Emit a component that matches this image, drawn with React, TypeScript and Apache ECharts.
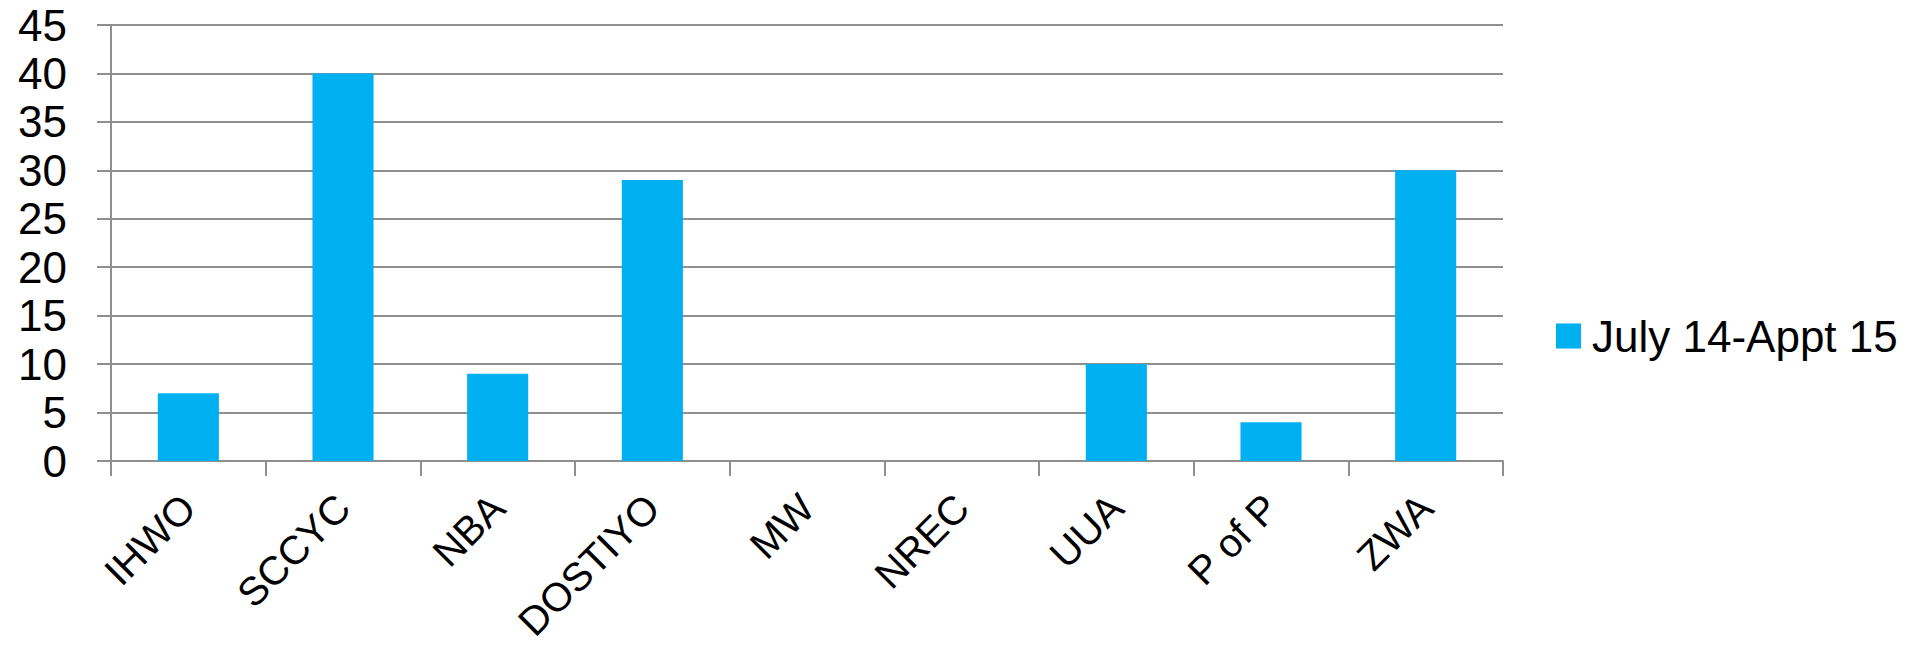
import React, { useEffect, useRef } from "react";
import * as echarts from "echarts";

const categories = ["IHWO", "SCCYC", "NBA", "DOSTIYO", "MW", "NREC", "UUA", "P of P", "ZWA"];
const values = [7, 40, 9, 29, 0, 0, 10, 4, 30];
const seriesName = "July 14-Appt 15";

export default function App() {
  const ref = useRef<HTMLDivElement>(null);
  useEffect(() => {
    document.body.style.margin = "0";
    const chart = echarts.init(ref.current!, null, { renderer: "svg" });
    const gray = "#8f8f8f";
    const font = "'Liberation Sans', Arial, sans-serif";
    chart.setOption({
      animation: false,
      textStyle: { fontFamily: font },
      grid: { left: 111, top: 25, width: 1392, height: 436, containLabel: false, outerBoundsMode: "none" },
      legend: {
        show: true,
        left: 1551,
        top: 309,
        orient: "vertical",
        itemWidth: 25,
        itemHeight: 25,
        itemGap: 10,
        icon: "rect",
        textStyle: { fontSize: 44, color: "#000", fontFamily: font, padding: [0, 0, 0, 6] },
        data: [seriesName],
      },
      xAxis: {
        type: "category",
        data: categories,
        boundaryGap: true,
        axisLine: { show: true, lineStyle: { color: gray, width: 2 } },
        axisTick: { show: true, length: 15, inside: false, alignWithLabel: false, lineStyle: { color: gray, width: 2 } },
        axisLabel: { rotate: 45, margin: 40, fontSize: 40, color: "#000", fontFamily: font, interval: 0 },
        splitLine: { show: false },
      },
      yAxis: {
        type: "value",
        min: 0,
        max: 45,
        interval: 5,
        axisLine: { show: true, lineStyle: { color: gray, width: 2 } },
        axisTick: { show: true, length: 14, inside: false, lineStyle: { color: gray, width: 2 } },
        axisLabel: { margin: 44, fontSize: 44, color: "#000", fontFamily: font },
        splitLine: { show: true, lineStyle: { color: gray, width: 2 } },
      },
      series: [
        {
          name: seriesName,
          type: "bar",
          data: values,
          barWidth: "39.5%",
          itemStyle: { color: "#00B0F0" },
        },
      ],
    });
    return () => chart.dispose();
  }, []);
  return <div ref={ref} style={{ width: 1924, height: 648, position: "absolute", left: 0, top: 0 }} />;
}
